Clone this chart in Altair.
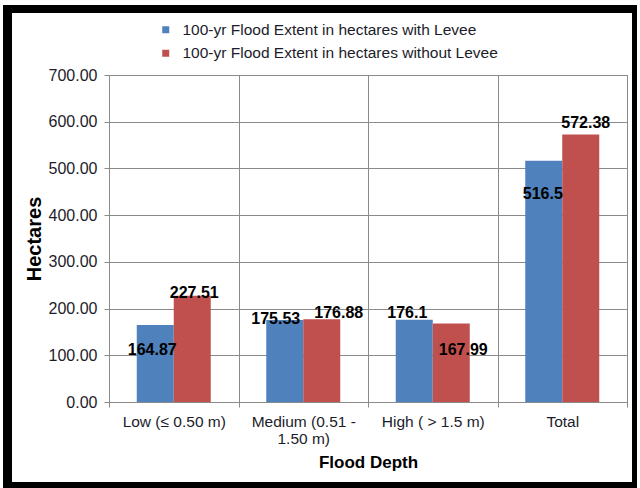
import altair as alt
import pandas as pd

# ---- data -------------------------------------------------------------
categories = ["Low (≤ 0.50 m)", "Medium (0.51 - 1.50 m)", "High ( > 1.5 m)", "Total"]
series_names = [
    "100-yr Flood Extent in hectares with Levee",
    "100-yr Flood Extent in hectares without Levee",
]
with_levee = [164.87, 175.53, 176.1, 516.5]
without_levee = [227.51, 176.88, 167.99, 572.38]
y_ticks = [0, 100, 200, 300, 400, 500, 600, 700]

# ---- styling ----------------------------------------------------------
colors = ["#4F81BD", "#C0504D"]
grid_gray = "#8a8a8a"
text_dark = "#1c1c2a"
FONT = "Liberation Sans"

# per-label nudges (dx, dy) in pixels, relative to the bar's top centre
label_nudges = {
    (0, 0): (-3, 25), (0, 1): (2, -3),
    (1, 0): (-9, -1), (1, 1): (17, -6),
    (2, 0): (-7, -7), (2, 1): (12, 26),
    (3, 0): (-1, 33), (3, 1): (5, -12),
}

rows = []
for i, cat in enumerate(categories):
    rows.append({"category": cat, "series": series_names[0], "value": with_levee[i], "ci": i, "si": 0})
    rows.append({"category": cat, "series": series_names[1], "value": without_levee[i], "ci": i, "si": 1})
df = pd.DataFrame(rows)

x_enc = alt.X(
    "category:N",
    sort=categories,
    scale=alt.Scale(paddingInner=0, paddingOuter=0),
    axis=alt.Axis(
        title="Flood Depth",
        labelAngle=0,
        tickBand="extent",
        grid=True,
        gridColor=grid_gray,
        gridWidth=1,
        domainColor=grid_gray,
        tickColor=grid_gray,
        tickSize=5,
        labelPadding=7,
        labelFontSize=15.5,
        labelColor=text_dark,
        labelLineHeight=17,
        labelLimit=0,
        labelExpr="datum.value == 'Medium (0.51 - 1.50 m)' ? ['Medium (0.51 -', '1.50 m)'] : datum.value",
        titleFontSize=17,
        titleFontWeight="bold",
        titleColor="#000000",
        titleY=60,
        titleBaseline="middle",
    ),
)
xoff_enc = alt.XOffset(
    "series:N", sort=series_names, scale=alt.Scale(paddingInner=0, paddingOuter=0.75)
)
y_enc = alt.Y(
    "value:Q",
    scale=alt.Scale(domain=[0, 700], nice=False),
    axis=alt.Axis(
        values=y_ticks,
        format=".2f",
        title="Hectares",
        grid=True,
        gridColor=grid_gray,
        gridWidth=1,
        domainColor=grid_gray,
        tickColor=grid_gray,
        tickSize=5,
        labelPadding=7,
        labelFontSize=16,
        labelColor=text_dark,
        titleFontSize=20,
        titleFontWeight="bold",
        titleColor="#000000",
        titleX=-75,
        titleY=163.5,
        titleBaseline="middle",
    ),
)

bars = alt.Chart(df).mark_bar().encode(
    x=x_enc,
    xOffset=xoff_enc,
    y=y_enc,
    color=alt.Color(
        "series:N",
        scale=alt.Scale(domain=series_names, range=colors),
        legend=alt.Legend(
            title=None,
            orient="none",
            legendX=49,
            legendY=-53,
            symbolType="square",
            symbolSize=49,
            symbolStrokeWidth=0,
            labelFontSize=15.5,
            labelColor=text_dark,
            labelOffset=9,
            labelLimit=0,
            rowPadding=6.5,
        ),
    ),
)

labels = []
for (ci, si), (dx, dy) in label_nudges.items():
    labels.append(
        alt.Chart(df)
        .transform_filter((alt.datum.ci == ci) & (alt.datum.si == si))
        .mark_text(
            dx=dx, dy=dy, fontSize=16, fontWeight="bold", color="#000000",
            align="center", baseline="middle",
        )
        .encode(x=x_enc, xOffset=xoff_enc, y=y_enc, text=alt.Text("value:Q"))
    )

# black outer frame around the chart
frame_edges = [
    (-106, -97, -70, 413),   # left
    (-106, 528, -70, -62),   # top
    (523, 528, -70, 413),    # right
    (-106, 528, 407, 413),   # bottom
]
frame = [
    alt.Chart(alt.Data(values=[{}]))
    .mark_rect(color="#000000")
    .encode(x=alt.value(x0), x2=alt.value(x1), y=alt.value(y0), y2=alt.value(y1))
    for x0, x1, y0, y1 in frame_edges
]

chart = (
    alt.layer(bars, *labels, *frame)
    .properties(
        width=518,
        height=327,
        autosize=alt.AutoSizeParams(type="none"),
        padding={"left": 109, "top": 75, "right": 13, "bottom": 86},
        background="#ffffff",
    )
    .configure(font=FONT)
    .configure_view(stroke=grid_gray, strokeWidth=1)
)

chart.save("out.html", embed_options={"renderer": "svg", "actions": False})
